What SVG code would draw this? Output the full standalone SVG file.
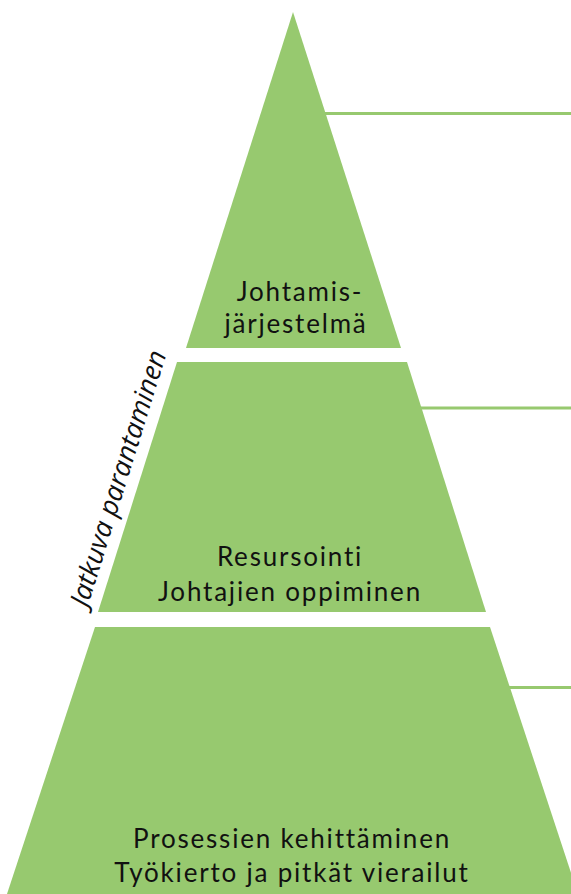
<svg xmlns="http://www.w3.org/2000/svg" width="571" height="894" viewBox="0 0 571 894">
  <style>
    .tier { fill: #97c96f; }
    .lead { stroke: #97c96f; stroke-width: 3; fill: none; }
    .label { font-family: Lato, "Open Sans", "Liberation Sans", sans-serif; font-size: 26px; letter-spacing: 1.8px; fill: #111; text-anchor: middle; }
    .side { font-family: "Open Sans", "Liberation Sans", sans-serif; font-size: 27px; font-style: italic; fill: #111; text-anchor: middle; }
  </style>
  <rect width="571" height="894" fill="#ffffff"/>
  <g id="connectors">
    <line class="lead" x1="320" y1="113.5" x2="571" y2="113.5"/>
    <line class="lead" x1="410" y1="408" x2="571" y2="408"/>
    <line class="lead" x1="500" y1="687.5" x2="571" y2="687.5"/>
  </g>
  <g id="top-tier">
    <polygon class="tier" points="293,12 401,348 186,348"/>
    <text class="label" x="300" y="301">Johtamis-</text>
    <text class="label" x="296" y="333">järjestelmä</text>
  </g>
  <g id="middle-tier">
    <polygon class="tier" points="177,362 407,362 486,612 98,612"/>
    <text class="label" x="290" y="566">Resursointi</text>
    <text class="label" x="290" y="601">Johtajien oppiminen</text>
  </g>
  <g id="bottom-tier">
    <polygon class="tier" points="95,627 490,627 578,894 7,894"/>
    <text class="label" x="292" y="848">Prosessien kehittäminen</text>
    <text class="label" x="292" y="882">Työkierto ja pitkät vierailut</text>
  </g>
  <g id="side-label">
    <text class="side" transform="translate(127,481) rotate(-72.7)">Jatkuva parantaminen</text>
  </g>
</svg>
